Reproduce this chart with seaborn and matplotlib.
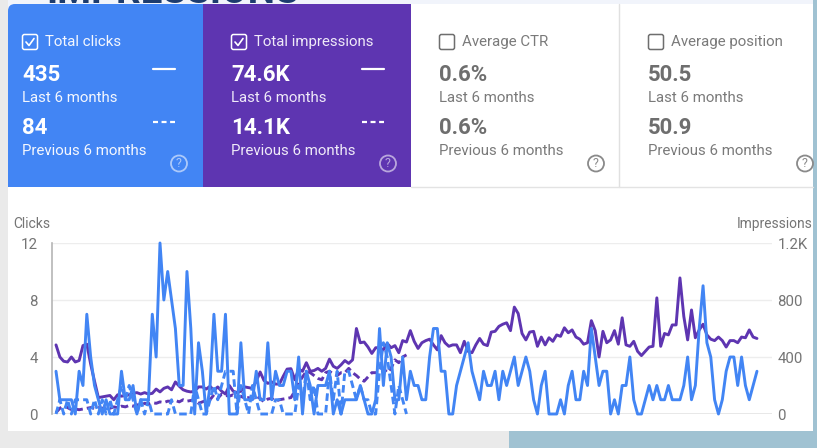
import matplotlib
matplotlib.use('Agg')
import matplotlib.pyplot as plt
from matplotlib.patches import Rectangle, FancyBboxPatch, Circle
import pandas as pd
import seaborn as sns

# clicks, last 6 months (daily)
clicks_last = [3,1,1,1,1,0,3,2,7,4,2,1,0,1,0,0,0,3,1,1,2,0,1,1,1,7,4,12,8,10,
               8,6,2,2,10,6,0,5,3,0,2,7,3,3,7,0,0,0,5,1,1,1,3,1,1,5,1,3,2,2,
               3,3,1,4,0,3,2,0,2,2,2,3,0,1,0,1,1,1,1,2,1,0,0,1,6,2,5,4,1,1,
               4,1,3,2,2,1,1,4,6,6,3,3,0,0,2,3,4,5,3,2,1,3,2,2,3,1,3,2,3,4,
               2,3,4,3,1,0,2,3,0,0,0,1,0,2,3,1,1,3,2,6,4,2,3,3,0,1,0,2,2,4,
               1,0,0,1,2,1,2,1,1,2,1,1,1,2,4,1,2,6,9,5,4,1,0,1,3,4,4,2,4,2,
               1,2,3]

# impressions, last 6 months
impr_last = [485,400,370,365,400,365,375,480,490,350,230,115,120,125,130,100,135,125,130,135,
             145,150,140,150,140,145,175,155,180,190,170,225,195,170,160,155,160,190,190,175,
             195,165,190,160,140,200,160,150,160,190,185,180,230,295,235,215,225,210,210,265,
             315,318,240,315,300,360,300,305,320,300,320,385,335,320,345,375,355,380,600,500,
             505,470,425,465,465,450,495,465,480,430,515,505,585,510,460,500,515,525,485,450,
             550,500,475,485,485,430,510,440,430,485,530,490,480,575,580,615,630,640,585,750,
             705,565,520,575,580,475,540,485,535,510,555,545,605,570,590,540,525,490,500,655,
             585,400,580,500,520,585,490,675,485,475,510,440,410,440,470,475,815,475,565,555,
             625,625,955,685,520,730,535,590,630,555,525,515,540,515,470,515,515,500,540,535,
             590,540,530]

# previous 6 months, dashed, shorter series
clicks_prev = [0,1,0,1,0,1,1,1,1,0,1,0,1,0,1,0,1,2,1,2,1,0,1,0,1,0,0,0,0,0,
               1,0,0,0,0,0,2,1,0,0,1,2,1,2,3,3,3,0,2,1,0,2,1,0,0,0,0,1,1,0,
               0,0,0,2,1,3,1,2,0,0,0,3,1,3,0,3,3,2,1,2,1,1,0,0,3,5,4,2,0,2,
               1,0]

impr_prev = [10,40,60,45,30,35,30,35,40,45,40,45,40,45,40,50,45,55,50,60,
             55,65,60,75,70,80,75,85,80,90,90,95,85,100,90,95,100,75,85,95,
             100,135,110,140,130,125,135,115,125,110,115,105,125,110,85,105,110,90,100,105,
             110,115,160,220,260,300,290,270,250,240,290,300,280,270,290,290,320,290,270,245,
             230,260,290,290,295,320,290,320,380,360,400,415]

clicks_ticks = [0, 4, 8, 12]
impr_ticks = [0, 400, 800, 1200]
impr_tick_labels = ['0', '400', '800', '1.2K']

BLUE = '#4285F4'
PURPLE = '#5E35B1'
W, H = 817, 448

sns.set_theme(style='white')
plt.rcParams['font.family'] = ['Roboto', 'DejaVu Sans']

fig = plt.figure(figsize=(W / 100, H / 100), dpi=100, facecolor='#EAEAEA')

# page background and cards, in pixels
bg = fig.add_axes([0, 0, 1, 1], zorder=0)
bg.set_xlim(0, W)
bg.set_ylim(H, 0)
bg.axis('off')
bg.add_patch(Rectangle((8, 0), 805, 431, color='#F1F4FB', lw=0))
bg.add_patch(Rectangle((8, 187), 805, 244, color='white', lw=0))
bg.add_patch(Rectangle((411, 4), 402, 183, color='white', lw=0))
bg.add_patch(Rectangle((509, 431), 308, 17, color='#A0C2D2', lw=0))
bg.add_patch(Rectangle((813, 0), 4, 448, color='#A0C2D2', lw=0))
bg.add_patch(FancyBboxPatch((8, 4), 195, 183, boxstyle='round,pad=0,rounding_size=7',
                            color=BLUE, lw=0))
bg.add_patch(Rectangle((8, 12), 10, 175, color=BLUE, lw=0))
bg.add_patch(Rectangle((190, 4), 13, 183, color=BLUE, lw=0))
bg.add_patch(Rectangle((203, 4), 208, 183, color=PURPLE, lw=0))
bg.plot([619, 619], [4, 187], color='#E0E0E0', lw=1)
bg.plot([411, 813], [187, 187], color='#E3E3E3', lw=1)

# heading from the slide behind, cut by the top edge
bg.text(46, 3, 'IMPRESSIONS', fontsize=27.8, fontweight='bold', color='#1D3C6E',
        ha='left', va='baseline')


def card(x, title, v1, v2, fg, sub, checked, dash_marks):
    bg.add_patch(FancyBboxPatch((x + 0.5, 34.5), 15, 15, boxstyle='round,pad=0,rounding_size=2',
                                fc='none', ec=fg, lw=1.1))
    if checked:
        bg.plot([x + 4, x + 7, x + 12], [42, 45.5, 38.5], color=fg, lw=1.2)
    bg.text(x + 23, 42, title, fontsize=10.8, color=sub, va='center')
    bg.text(x, 75, v1, fontsize=16, fontweight='bold', color=fg, va='center')
    bg.text(x, 98, 'Last 6 months', fontsize=10.8, color=sub, va='center')
    bg.text(x, 128, v2, fontsize=16, fontweight='bold', color=fg, va='center')
    bg.text(x, 151, 'Previous 6 months', fontsize=10.8, color=sub, va='center')
    if dash_marks:
        bg.plot([x + 131, x + 153], [69.5, 69.5], color='white', lw=1.6)
        bg.plot([x + 131, x + 153], [122.5, 122.5], color='white', lw=1.6,
                linestyle=(0, (2.25, 1.6)))
    help_col = '#FFFFFF90' if checked else '#8A8A8A'
    bg.add_patch(Circle((x + 157, 163.5), 8, fc='none', ec=help_col, lw=1.3))
    bg.text(x + 157, 163.5, '?', fontsize=9, color=help_col, ha='center', va='center')


card(22, 'Total clicks', '435', '84', 'white', '#F4F7FE', True, True)
card(231, 'Total impressions', '74.6K', '14.1K', 'white', '#EFEAF8', True, True)
card(439, 'Average CTR', '0.6%', '0.6%', '#6E6E6E', '#7A7A7A', False, False)
card(648, 'Average position', '50.5', '50.9', '#6E6E6E', '#7A7A7A', False, False)

# chart, days on x
ax = fig.add_axes([52 / W, 1 - 414 / H, 720 / W, 171 / H], zorder=3)
ax2 = ax.twinx()
ax2.set_zorder(2)
ax.set_zorder(3)
ax.patch.set_visible(False)
ax2.patch.set_visible(False)

last = pd.DataFrame({'day': range(len(clicks_last)), 'clicks': clicks_last, 'impr': impr_last})
prev = pd.DataFrame({'day': range(len(clicks_prev)), 'clicks': clicks_prev, 'impr': impr_prev})

dash = (0, (2.6, 1.4))
sns.lineplot(data=prev, x='day', y='impr', ax=ax2, color=PURPLE, lw=2.1, estimator=None,
             linestyle=dash, clip_on=False)
sns.lineplot(data=last, x='day', y='impr', ax=ax2, color=PURPLE, lw=2.1, estimator=None,
             clip_on=False)
sns.lineplot(data=prev, x='day', y='clicks', ax=ax, color=BLUE, lw=2.1, estimator=None,
             linestyle=dash, clip_on=False)
sns.lineplot(data=last, x='day', y='clicks', ax=ax, color=BLUE, lw=2.1, estimator=None,
             clip_on=False)

for a in (ax, ax2):
    a.set_xlim(-1.04, 185.9)
    a.set_xlabel('')
    a.set_ylabel('')
    a.set_xticks([])
    for s in a.spines.values():
        s.set_visible(False)
ax.set_ylim(0, 12)
ax2.set_ylim(0, 1200)
ax.set_yticks(clicks_ticks)
ax2.set_yticks(impr_ticks, impr_tick_labels)
ax.tick_params(axis='y', length=0, pad=10, labelsize=10.8, labelcolor='#757575')
ax2.tick_params(axis='y', length=0, pad=4, labelsize=10.8, labelcolor='#757575')
ax2.grid(axis='y', color='#EDEDED', lw=1)
ax2.set_axisbelow(True)
ax2.axhline(0, color='#9E9E9E', lw=1, zorder=1)
ax.spines['left'].set_visible(True)
ax.spines['left'].set_color('#B5B5B5')
ax.spines['left'].set_linewidth(1.2)

fig.text(13 / W, 1 - 224 / H, 'Clicks', fontsize=10, color='#757575', va='center')
fig.text(813 / W, 1 - 224 / H, 'Impressions', fontsize=9.9, color='#757575', va='center', ha='right')

fig.savefig('out.png', dpi=100, facecolor=fig.get_facecolor())
